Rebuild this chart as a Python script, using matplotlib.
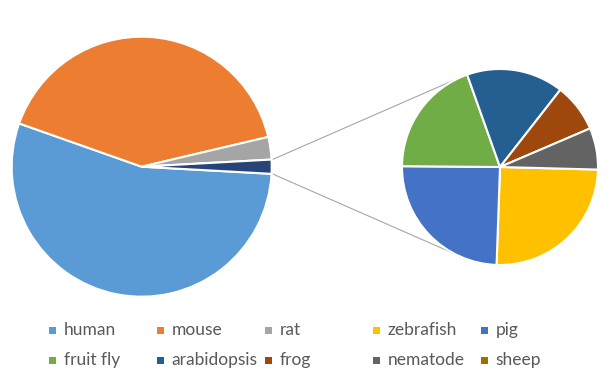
import numpy as np
import matplotlib
matplotlib.use("Agg")
import matplotlib.pyplot as plt
from matplotlib.patches import Rectangle

plt.rcParams['font.family'] = ['Lato', 'DejaVu Sans']

# main pie
main_labels = ['human', 'mouse', 'rat']
main_values = [545, 409, 28]
# secondary pie (grouped into "other" on the main pie)
sub_labels = ['zebrafish', 'pig', 'fruit fly', 'arabidopsis', 'frog', 'nematode', 'sheep']
sub_values = [4.4, 4.3, 3.4, 2.8, 1.4, 1.2, 0.0]

colors = {'human': '#5B9BD5', 'mouse': '#ED7D31', 'rat': '#A5A5A5',
          'zebrafish': '#FFC000', 'pig': '#4472C4', 'fruit fly': '#70AD47',
          'arabidopsis': '#255E91', 'frog': '#9E480E', 'nematode': '#636363',
          'sheep': '#997300'}
other_color = '#264478'

W, H = 615, 377
fig = plt.figure(figsize=(W / 100, H / 100), dpi=100)
ax = fig.add_axes([0, 0, 1, 1])

c1, r1 = (141.7, H - 166.7), 130
c2, r2 = (500.0, H - 167.0), 98

other = sum(sub_values)
vals1 = main_values + [other]
cols1 = [colors[k] for k in main_labels] + [other_color]
other_deg = other / sum(vals1) * 360
wp = dict(edgecolor='white', linewidth=1.5)
ax.pie(vals1, colors=cols1, center=c1, radius=r1, startangle=-other_deg / 2,
       counterclock=False, wedgeprops=wp)

sv = [v for v in sub_values if v > 0]
sc = [colors[k] for k, v in zip(sub_labels, sub_values) if v > 0]
ax.pie(sv, colors=sc, center=c2, radius=r2, startangle=-1.5,
       counterclock=False, wedgeprops=wp)

# connector lines
for a1, a2 in [(other_deg / 2, 112.8), (-other_deg / 2, -118)]:
    p1 = (c1[0] + (r1 + 1) * np.cos(np.radians(a1)), c1[1] + (r1 + 1) * np.sin(np.radians(a1)))
    p2 = (c2[0] + r2 * np.cos(np.radians(a2)), c2[1] + r2 * np.sin(np.radians(a2)))
    ax.plot([p1[0], p2[0]], [p1[1], p2[1]], color='#A6A6A6', lw=0.8, zorder=0)

ax.set_xlim(0, W)
ax.set_ylim(0, H)
ax.set_aspect('equal')
ax.axis('off')

# legend, two rows of five
leg_labels = main_labels + sub_labels
col_x = [52.3, 160.3, 268.3, 376.3, 484.3]
row_y = [330.5, 360.7]
for i, lab in enumerate(leg_labels):
    x = col_x[i % 5]
    y = row_y[i // 5]
    fig.patches.append(Rectangle(((x - 3.5) / W, 1 - (y + 3.5) / H), 7 / W, 7 / H,
                                 transform=fig.transFigure, facecolor=colors[lab],
                                 edgecolor='none'))
    fig.text((x + 11.5) / W, 1 - (y - 0.5) / H, lab, fontsize=12.5, color='#595959',
             va='center', ha='left')

fig.savefig('out.png', dpi=100)
